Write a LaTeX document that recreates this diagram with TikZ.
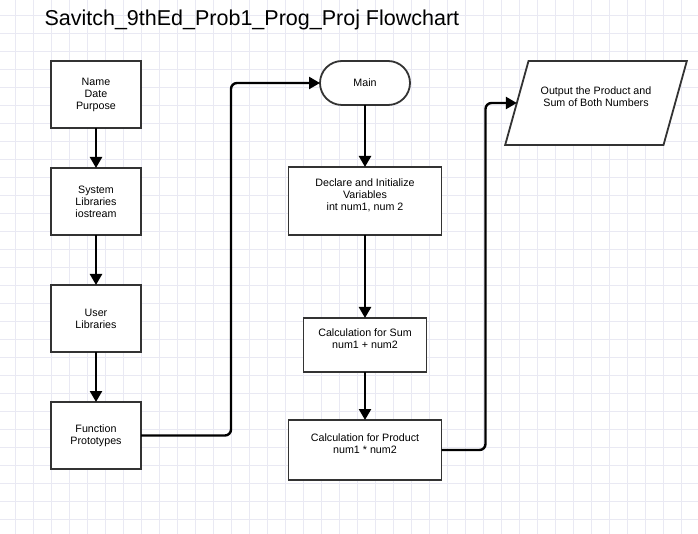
\documentclass[tikz,border=0pt]{standalone}
\usepackage{fontspec}
\setmainfont{Liberation Sans}
\usetikzlibrary{arrows.meta,positioning,shapes.geometric}
\definecolor{edge}{HTML}{333333}
\definecolor{gridline}{HTML}{E9E9F3}

\begin{document}
\begin{tikzpicture}[x=1pt,y=-1pt,
  box/.style={draw=edge,fill=white,line width=1.8pt,minimum width=90pt,minimum height=67pt,
              inner sep=2pt,outer sep=0pt,align=center,font=\fontsize{10.7}{12}\selectfont},
  term/.style={box,rounded corners=22pt,minimum height=44pt},
  io/.style={box,trapezium,trapezium left angle=61,trapezium right angle=119,
             trapezium stretches=true,minimum width=182pt,minimum height=84pt},
  arr/.style={-{Triangle[length=11pt,width=12pt]},draw=black,line width=2.4pt}
]
\useasboundingbox (0,0) rectangle (698,534);
\fill[white] (0,0) rectangle (698,534);
\foreach \k in {0,...,37} {
  \draw[gridline,line width=0.7pt] (15.3+18*\k,0) -- (15.3+18*\k,534);
}
\foreach \k in {0,...,28} {
  \draw[gridline,line width=0.7pt] (0,15.3+18*\k) -- (698,15.3+18*\k);
}
\node[anchor=base west,font=\fontsize{21.5}{24}\selectfont] (title) at (41,25.3)
  {Savitch\_9thEd\_Prob1\_Prog\_Proj Flowchart};
% left column
\node[box] (name) at (96,94.5) {Name\\Date\\Purpose};
\node[box,below=40pt of name] (sys) {System\\Libraries\\iostream};
\node[box,below=50pt of sys] (user) {User\\Libraries};
\node[box,below=50pt of user] (func) {Function\\Prototypes};
% middle column
\node[term] (main) at (365,83) {Main};
\node[box,minimum width=153pt,minimum height=68pt,below=62pt of main] (decl)
  {Declare and Initialize\\Variables\\int num1, num 2\\\mbox{}};
\node[box,minimum width=123pt,minimum height=54pt,below=83pt of decl] (sum)
  {Calculation for Sum\\num1 + num2\\\mbox{}};
\node[box,minimum width=153pt,minimum height=60pt,below=48pt of sum] (prod)
  {Calculation for Product\\num1 * num2\\\mbox{}};
% output
\node[io] (out) at (596,103) {Output the Product and\\Sum of Both Numbers\\\mbox{}};
\draw[arr] (name) -- (sys);
\draw[arr] (sys) -- (user);
\draw[arr] (user) -- (func);
\draw[arr] (main) -- (decl);
\draw[arr] (decl) -- (sum);
\draw[arr] (sum) -- (prod);
\draw[arr,rounded corners=6pt] (func.east) -- ++(90,0) |- (main.west);
\draw[arr,rounded corners=6pt] (prod.east) -- ++(44,0) |- (out.west);
\end{tikzpicture}
\end{document}
